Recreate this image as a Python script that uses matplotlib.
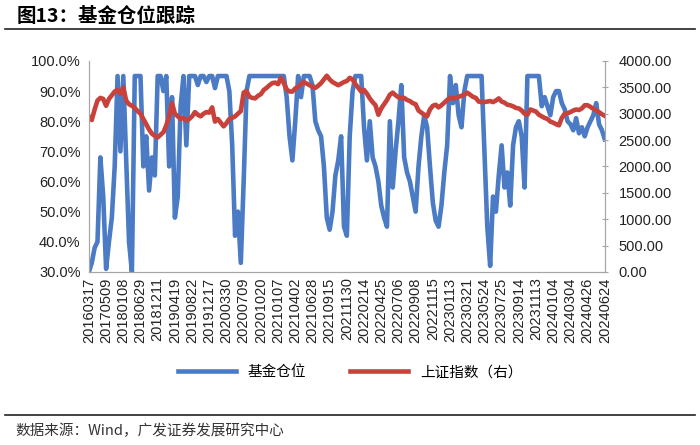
import matplotlib.pyplot as plt
import numpy as np

plt.rcParams['font.family'] = ['Liberation Sans', 'Noto Sans CJK SC', 'DejaVu Sans']

# tick labels (every 6th point)
dates = ['20160317', '20170509', '20180108', '20180629', '20181211', '20190419',
         '20190822', '20191217', '20200330', '20200709', '20201020', '20210107',
         '20210402', '20210628', '20210915', '20211130', '20220214', '20220425',
         '20220706', '20220908', '20221115', '20230113', '20230321', '20230524',
         '20230725', '20230914', '20231113', '20240104', '20240304', '20240426',
         '20240624']

# 基金仓位 (%)
fund_pos = [30, 33, 38, 40, 68, 55,
            31, 40, 48, 65, 95, 70,
            95, 68, 40, 30, 95, 95,
            95, 65, 75, 57, 68, 62,
            95, 95, 90, 95, 65, 88,
            48, 55, 85, 95, 72, 95,
            95, 95, 92, 95, 95, 93,
            95, 95, 91, 95, 95, 95,
            95, 90, 72, 42, 50, 33,
            60, 90, 95, 95, 95, 95,
            95, 95, 95, 95, 95, 95,
            95, 95, 95, 88, 75, 67,
            80, 95, 88, 95, 95, 95,
            92, 80, 77, 75, 65, 48,
            44, 50, 62, 67, 75, 45,
            42, 75, 90, 95, 95, 95,
            78, 67, 80, 68, 65, 60,
            52, 48, 45, 80, 58, 70,
            80, 92, 68, 63, 60, 55,
            50, 65, 75, 82, 78, 65,
            53, 47, 45, 52, 63, 72,
            95, 86, 92, 82, 78, 90,
            95, 95, 95, 95, 95, 95,
            70, 45, 32, 55, 50, 62,
            72, 58, 63, 52, 72, 78,
            80, 75, 58, 95, 95, 95,
            95, 95, 85, 88, 85, 82,
            88, 90, 90, 86, 84, 80,
            79, 77, 81, 76, 78, 75,
            78, 80, 82, 86, 79, 77,
            74]

# 上证指数
sh_index = [2950, 2880, 3080, 3250, 3300, 3280,
            3150, 3280, 3350, 3420, 3450, 3380,
            3500, 3250, 3180, 3150, 3110, 3050,
            3000, 2900, 2800, 2700, 2620, 2580,
            2550, 2600, 2650, 2780, 2950, 3200,
            3000, 2950, 2900, 2920, 2870, 2900,
            2950, 3030, 2980, 2950, 3000, 3030,
            3020, 3120, 2850, 2900, 2830, 2760,
            2820, 2900, 2920, 2950, 3000, 3050,
            3400, 3430, 3320, 3300, 3290, 3340,
            3370, 3450, 3490, 3540, 3580, 3590,
            3560, 3680, 3580, 3460, 3420, 3420,
            3480, 3510, 3560, 3600, 3570, 3540,
            3510, 3490, 3530, 3580, 3650, 3720,
            3650, 3600, 3570, 3540, 3570, 3600,
            3620, 3680, 3650, 3560, 3490, 3420,
            3450, 3380, 3290, 3220, 3160, 2980,
            3100, 3180, 3260, 3360, 3400, 3350,
            3310, 3290, 3300, 3260, 3240, 3200,
            3180, 3060, 3020, 2980, 2950, 3080,
            3150, 3170, 3120, 3160, 3210, 3260,
            3300, 3290, 3300, 3320, 3340, 3360,
            3400, 3360, 3320, 3300, 3230, 3220,
            3220, 3230, 3240, 3220, 3250, 3290,
            3230, 3210, 3170, 3160, 3140, 3110,
            3100, 3060, 3000, 2980, 3080, 3060,
            3040, 2980, 2950, 2920, 2900, 2850,
            2830, 2800, 2780, 2920, 3000, 3010,
            3030, 3060, 3080, 3070, 3100, 3160,
            3160, 3130, 3090, 3060, 3030, 2990,
            2960]

blue = '#4a7bc4'
red = '#c8413a'
grey = '#a6a6a6'

x = np.arange(len(fund_pos))

fig = plt.figure(figsize=(7, 4.45), dpi=100)
ax = fig.add_axes([0.127, 0.389, 0.737, 0.474])
ax2 = ax.twinx()

l1, = ax.plot(x, np.array(fund_pos) / 100, color=blue, lw=3.3, solid_joinstyle='round', label='基金仓位')
l2, = ax2.plot(x, sh_index, color=red, lw=3.3, solid_joinstyle='round', label='上证指数（右）')

ax.set_xlim(0, len(fund_pos) - 1)
ax.set_ylim(0.3, 1.0)
ax.set_yticks(np.arange(0.3, 1.001, 0.1))
ax.set_yticklabels(['%.1f%%' % (v * 100) for v in np.arange(0.3, 1.001, 0.1)])
ax2.set_ylim(0, 4000)
ax2.set_yticks(np.arange(0, 4001, 500))
ax2.set_yticklabels(['%.2f' % v for v in np.arange(0, 4001, 500)])

ax.set_xticks(np.arange(0, len(fund_pos), 6))
ax.set_xticklabels(dates, rotation=90)

for a in (ax, ax2):
    a.spines['top'].set_visible(False)
    for s in ('left', 'right', 'bottom'):
        a.spines[s].set_color(grey)
    a.tick_params(labelsize=10.5, colors='#222222')
ax.tick_params(axis='y', length=0, pad=6)
ax.tick_params(axis='x', length=0, pad=4)
ax2.tick_params(axis='y', length=4, direction='inout', color=grey, pad=8)

fig.legend([l1, l2], ['基金仓位', '上证指数（右）'], loc='center', bbox_to_anchor=(0.5, 0.163),
           ncol=2, frameon=False, handlelength=4, columnspacing=3,
           prop={'family': ['Noto Sans CJK SC'], 'size': 10.5})

fig.text(0.024, 0.963, '图13：基金仓位跟踪', fontsize=14, fontweight='bold',
         family=['Noto Sans CJK SC'], va='center')
fig.add_artist(plt.Line2D([0.007, 0.993], [0.935, 0.935], color='#222222', lw=1.2))
fig.add_artist(plt.Line2D([0.007, 0.993], [0.067, 0.067], color='#222222', lw=1.2))
fig.text(0.022, 0.033, '数据来源：Wind，广发证券发展研究中心', fontsize=10.5,
         family=['Noto Sans CJK SC'], va='center', color='#333333')

fig.savefig('out.png', dpi=100)
